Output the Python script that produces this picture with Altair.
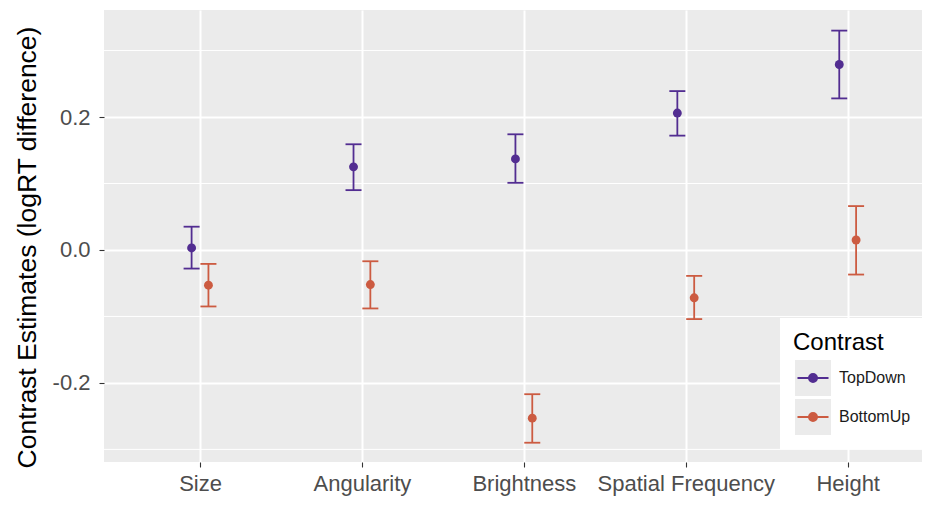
import json
import altair as alt
import pandas as pd

categories = ["Size", "Angularity", "Brightness", "Spatial Frequency", "Height"]
series = ["TopDown", "BottomUp"]
colors = ["#522D91", "#CC5B41"]

topdown_est = [0.003, 0.125, 0.137, 0.206, 0.279]
topdown_lo = [-0.028, 0.090, 0.101, 0.172, 0.228]
topdown_hi = [0.035, 0.159, 0.174, 0.239, 0.330]

bottomup_est = [-0.053, -0.052, -0.253, -0.072, 0.015]
bottomup_lo = [-0.085, -0.088, -0.290, -0.104, -0.037]
bottomup_hi = [-0.021, -0.017, -0.217, -0.039, 0.066]

y_ticks = [-0.2, 0.0, 0.2]
y_minor = [-0.3, -0.1, 0.1, 0.3]

rows = []
for name, est, lo, hi in [("TopDown", topdown_est, topdown_lo, topdown_hi),
                          ("BottomUp", bottomup_est, bottomup_lo, bottomup_hi)]:
    for i, c in enumerate(categories):
        rows.append({"Category": c, "idx": i + 1, "Contrast": name,
                     "est": est[i], "lo": lo[i], "hi": hi[i]})
df = pd.DataFrame(rows)
minor_df = pd.DataFrame({"v": y_minor})

FONT = "Liberation Sans"
DODGE = 0.052
W, H = 818, 452

x_scale = alt.Scale(domain=[0.407, 5.459], nice=False, zero=False)
y_scale = alt.Scale(domain=[-0.319, 0.361], nice=False, zero=False)

x_axis = alt.Axis(
    values=list(range(1, len(categories) + 1)),
    labelExpr=json.dumps(categories) + "[datum.value - 1]",
    title=None, grid=True, gridColor="white", gridWidth=2,
    tickSize=5, labelPadding=6, labelFontSize=22, labelColor="#4D4D4D",
)
y_axis = alt.Axis(
    values=y_ticks,
    labelExpr="datum.value < 0 ? '-' + format(-datum.value, '.1f') : format(datum.value, '.1f')",
    title="Contrast Estimates (logRT difference)",
    titleFontSize=26.5, titleColor="black", titleFontWeight="normal",
    titleX=-77, titleY=237, titleAlign="center", titleBaseline="middle", titleAngle=270,
    grid=True, gridColor="white", gridWidth=2,
    tickSize=5, labelPadding=9, labelFontSize=22, labelColor="#4D4D4D",
)

X = alt.X("xpos:Q", scale=x_scale, axis=x_axis)

base = alt.Chart(df).transform_calculate(
    xpos=f"datum.idx + (datum.Contrast == 'TopDown' ? {-DODGE} : {DODGE})"
)

line_symbol = ("M-1,-1M1,1M-0.816,0H0.816M-0.21,0A0.21,0.21 0 1,0 0.21,0"
               "A0.21,0.21 0 1,0 -0.21,0Z")
key_symbol = "M-1,-1M1,1M-0.947,-0.947H0.947V0.947H-0.947Z"

LEG_X, LEG_Y = 676, 308
common_leg = dict(
    orient="none", legendX=LEG_X, legendY=LEG_Y,
    titleFontSize=24, titleFontWeight="normal", titlePadding=4,
    labelFontSize=16, labelOffset=6, symbolSize=1444, symbolStrokeWidth=2,
    symbolOpacity=1, padding=13, rowPadding=1, clipHeight=38,
)

# top legend: coloured line + point keys only
color_enc = alt.Color(
    "Contrast:N",
    scale=alt.Scale(domain=series, range=colors),
    legend=alt.Legend(
        title="\u2003", titleColor="transparent",
        labelExpr="''", labelColor="transparent",
        symbolType=line_symbol, zindex=2,
        **common_leg,
    ),
)

minor = alt.Chart(minor_df).mark_rule(color="white", strokeWidth=1).encode(
    y=alt.Y("v:Q", scale=y_scale, axis=y_axis)
)

bars = base.mark_rule(strokeWidth=1.8, opacity=1).encode(
    x=X, y=alt.Y("lo:Q", scale=y_scale, axis=y_axis), y2="hi:Q", color=color_enc
)
cap_lo = base.mark_tick(orient="horizontal", size=16, thickness=1.8, opacity=1).encode(
    x=X, y=alt.Y("lo:Q", scale=y_scale, axis=y_axis), color=color_enc
)
cap_hi = base.mark_tick(orient="horizontal", size=16, thickness=1.8, opacity=1).encode(
    x=X, y=alt.Y("hi:Q", scale=y_scale, axis=y_axis), color=color_enc
)
points = base.mark_circle(size=79, opacity=1).encode(
    x=X, y=alt.Y("est:Q", scale=y_scale, axis=y_axis), color=color_enc
)

# bottom legend: white box, title, grey key backgrounds and labels
key_domain = [s + " " for s in series]
keys = base.transform_filter("false").transform_calculate(
    Contrast2="datum.Contrast + ' '"
).mark_point(filled=True, color="#EBEBEB", opacity=1).encode(
    x=X, y=alt.Y("est:Q", scale=y_scale, axis=y_axis),
    shape=alt.Shape(
        "Contrast2:N",
        scale=alt.Scale(domain=key_domain, range=[key_symbol, key_symbol]),
        legend=alt.Legend(
            title="Contrast", titleColor="black",
            labelExpr="trim(datum.label)", labelColor="#1A1A1A",
            symbolFillColor="#EBEBEB", symbolStrokeColor="#EBEBEB",
            fillColor="white", zindex=1,
            **common_leg,
        ),
    ),
)

chart = alt.layer(minor, bars, cap_lo, cap_hi, points, keys).properties(
    width=W, height=H,
    autosize=alt.AutoSizeParams(type="none"),
    padding={"left": 96, "top": 2, "right": 0, "bottom": 34},
).configure(
    font=FONT,
).configure_view(
    fill="#EBEBEB", strokeWidth=0,
).configure_axis(
    domain=False, labelFont=FONT, titleFont=FONT,
    tickColor="#333333", tickWidth=1.1,
).configure_legend(
    labelFont=FONT, titleFont=FONT,
)

chart.save("out.html", embed_options={"renderer": "svg", "actions": False})
